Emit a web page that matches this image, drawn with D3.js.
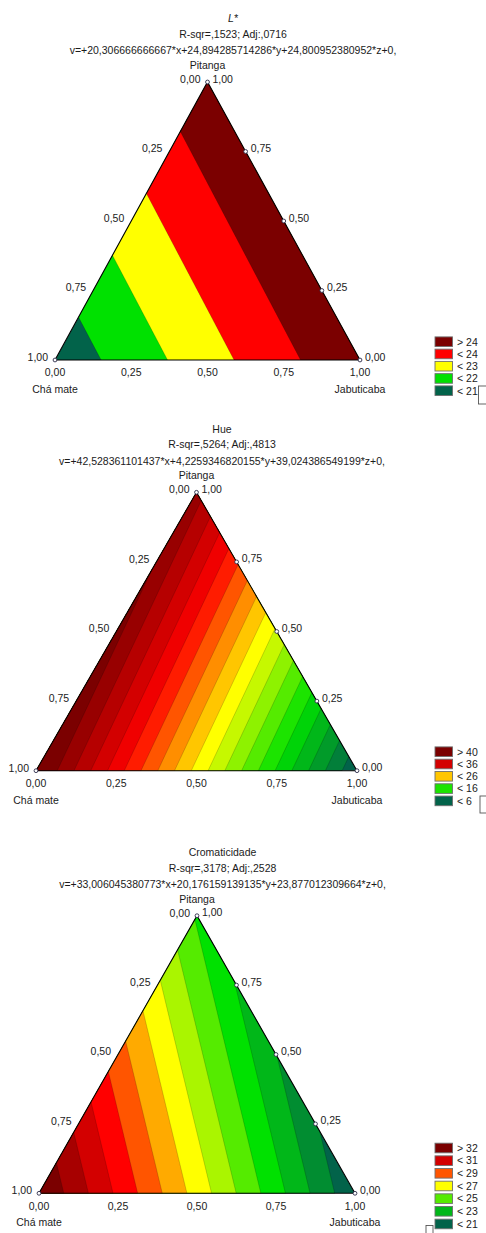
<!DOCTYPE html>
<html>
<head>
<meta charset="utf-8">
<script src="https://cdn.jsdelivr.net/npm/d3@7"></script>
<style>
  html, body { margin: 0; padding: 0; background: #fff; }
  svg { display: block; font-family: "Liberation Sans", Arial, sans-serif; }
</style>
</head>
<body>
<svg id="chart" width="486" height="1233"></svg>
<script>
// Mixture components: x = Chá mate, y = Jabuticaba, z = Pitanga
const componentNames = ["Chá mate", "Jabuticaba", "Pitanga"];
const tickValues = [0, 0.25, 0.5, 0.75, 1];

// L*
const coefL = [20.306666666667, 24.894285714286, 24.800952380952];
const levelsL = [21, 22, 23, 24];
const legendBandsL = [4, 3, 2, 1, 0];

// Hue
const coefHue = [42.528361101437, 4.2259346820155, 39.024386549199];
const levelsHue = [6, 8, 10, 12, 14, 16, 18, 20, 22, 24, 26, 28, 30, 32, 34, 36, 38, 40];
const legendBandsHue = [18, 15, 10, 5, 0];

// Cromaticidade
const coefCrom = [33.006045380773, 20.176159139135, 23.877012309664];
const levelsCrom = [21, 22, 23, 24, 25, 26, 27, 28, 29, 30, 31, 32];
const legendBandsCrom = [12, 10, 8, 6, 4, 2, 0];

const titles = ["L*", "Hue", "Cromaticidade"];
const fitStats = ["R-sqr=,1523; Adj:,0716", "R-sqr=,5264; Adj:,4813", "R-sqr=,3178; Adj:,2528"];
const equations = [
  "v=+20,306666666667*x+24,894285714286*y+24,800952380952*z+0,",
  "v=+42,528361101437*x+4,2259346820155*y+39,024386549199*z+0,",
  "v=+33,006045380773*x+20,176159139135*y+23,877012309664*z+0,"
];

// Colour ramp used for the contour bands (low -> high)
const rampStops = ["#02634a", "#00e100", "#ffff00", "#ff0000", "#7b0000"];

const panels = [
  { coef: coefL, levels: levelsL, legend: legendBandsL, italic: true,
    left: 55, right: 360, base: 360, apex: 82,
    legendTop: 341.7, legendStep: 12.25, marker: [478.5, 386, 9, 18] },
  { coef: coefHue, levels: levelsHue, legend: legendBandsHue, italic: false,
    left: 36, right: 357, base: 770.7, apex: 492.3,
    legendTop: 751.7, legendStep: 12.3, marker: [480, 796, 9, 17] },
  { coef: coefCrom, levels: levelsCrom, legend: legendBandsCrom, italic: false,
    left: 39, right: 355, base: 1193.3, apex: 915.7,
    legendTop: 1148, legendStep: 12.66, marker: [426, 1225.5, 7, 10] }
];

const fmt = v => d3.format(".2f")(v).replace(".", ",");
const svg = d3.select("#chart");
const textColor = "#1b1b1b";

panels.forEach((p, pi) => {
  const g = svg.append("g");
  const mid = (p.left + p.right) / 2;

  // s = Jabuticaba + Pitanga/2 runs along the base; Pitanga sets the height
  const sx = d3.scaleLinear().domain([0, 1]).range([p.left, p.right]);
  const sy = d3.scaleLinear().domain([0, 1]).range([p.base, p.apex]);
  const pt = (cha, jab, pit) => [sx(jab + pit / 2), sy(pit)];

  const nBands = p.levels.length + 1;
  const ramp = d3.scaleLinear().domain([0, 0.25, 0.5, 0.75, 1]).range(rampStops);
  const bandColor = k => ramp(k / (nBands - 1));

  // Sample the fitted surface on a 1px grid over the triangle's bounding box
  const w = Math.ceil(p.right - p.left) + 1;
  const h = Math.ceil(p.base - p.apex) + 1;
  const values = new Float64Array(w * h);
  for (let j = 0; j < h; j++) {
    const pit = sy.invert(p.apex + j);
    for (let i = 0; i < w; i++) {
      const jab = sx.invert(p.left + i) - pit / 2;
      const cha = 1 - jab - pit;
      values[i + j * w] = p.coef[0] * cha + p.coef[1] * jab + p.coef[2] * pit;
    }
  }
  const contours = d3.contours().size([w, h]).thresholds(p.levels)(values);
  const path = d3.geoPath(d3.geoIdentity().translate([p.left - 0.5, p.apex - 0.5]));

  const tri = [pt(1, 0, 0), pt(0, 1, 0), pt(0, 0, 1)];
  const clipId = "tri-clip-" + pi;
  svg.append("clipPath").attr("id", clipId)
    .append("polygon").attr("points", tri.map(d => d.join(",")).join(" "));

  const bands = g.append("g").attr("clip-path", `url(#${clipId})`);
  bands.append("polygon")
    .attr("points", tri.map(d => d.join(",")).join(" "))
    .attr("fill", bandColor(0));
  bands.selectAll("path.band").data(contours).join("path")
    .attr("class", "band")
    .attr("d", path)
    .attr("fill", (d, k) => bandColor(k + 1))
    .attr("stroke", "rgba(0,0,0,0.35)")
    .attr("stroke-width", 0.5);

  g.append("polygon")
    .attr("points", tri.map(d => d.join(",")).join(" "))
    .attr("fill", "none").attr("stroke", "#000").attr("stroke-width", 1.1);

  const txt = (x, y, s, anchor, extra) => {
    const t = g.append("text").attr("x", x).attr("y", y).attr("text-anchor", anchor)
      .attr("font-size", 10.5).attr("fill", textColor).text(s);
    if (extra) extra(t);
    return t;
  };

  // Titles
  const tx = mid + 25.5;
  txt(tx, p.apex - 59.6, titles[pi], "middle", t => { if (p.italic) t.attr("font-style", "italic"); });
  txt(tx, p.apex - 44.2, fitStats[pi], "middle");
  txt(tx, p.apex - 27.7, equations[pi], "middle");
  txt(mid, p.apex - 13.2, componentNames[2], "middle");

  // Chá mate scale along the left edge
  tickValues.forEach(v => {
    const [x, y] = pt(v, 0, 1 - v);
    txt(x - 7, y + 0.8, fmt(v), "end");
  });
  // Pitanga scale along the right edge
  tickValues.forEach(v => {
    const [x, y] = pt(0, 1 - v, v);
    txt(x + 5, y + 0.5, fmt(v), "start");
  });
  // Jabuticaba scale along the base
  tickValues.forEach(v => {
    const [x, y] = pt(1 - v, v, 0);
    txt(x, y + 16.3, fmt(v), "middle");
  });
  txt(sx(0), p.base + 32.8, componentNames[0], "middle");
  txt(sx(1), p.base + 32.8, componentNames[1], "middle");

  // Markers on the vertices and the Pitanga ticks
  const markers = tickValues.map(v => pt(0, 1 - v, v)).concat([pt(1, 0, 0)]);
  g.selectAll("circle.mk").data(markers).join("circle")
    .attr("class", "mk")
    .attr("cx", d => d[0]).attr("cy", d => d[1]).attr("r", 1.9)
    .attr("fill", "#fff").attr("stroke", "#2a2a48").attr("stroke-width", 0.9);

  // Legend
  const lg = g.append("g");
  p.legend.forEach((k, r) => {
    const cy = p.legendTop + r * p.legendStep;
    const label = k === nBands - 1 ? "> " + p.levels[k - 1] : "< " + p.levels[k];
    lg.append("rect").attr("x", 435).attr("y", cy - 4.8).attr("width", 17.5).attr("height", 9.6)
      .attr("fill", bandColor(k)).attr("stroke", "#6f6f6f").attr("stroke-width", 0.9);
    lg.append("text").attr("x", 457).attr("y", cy + 3.8).attr("font-size", 10.5)
      .attr("fill", textColor).text(label);
  });
  const m = p.marker;
  lg.append("rect").attr("x", m[0]).attr("y", m[1]).attr("width", m[2]).attr("height", m[3])
    .attr("fill", "#fff").attr("stroke", "#555").attr("stroke-width", 0.9);
});
</script>
</body>
</html>
